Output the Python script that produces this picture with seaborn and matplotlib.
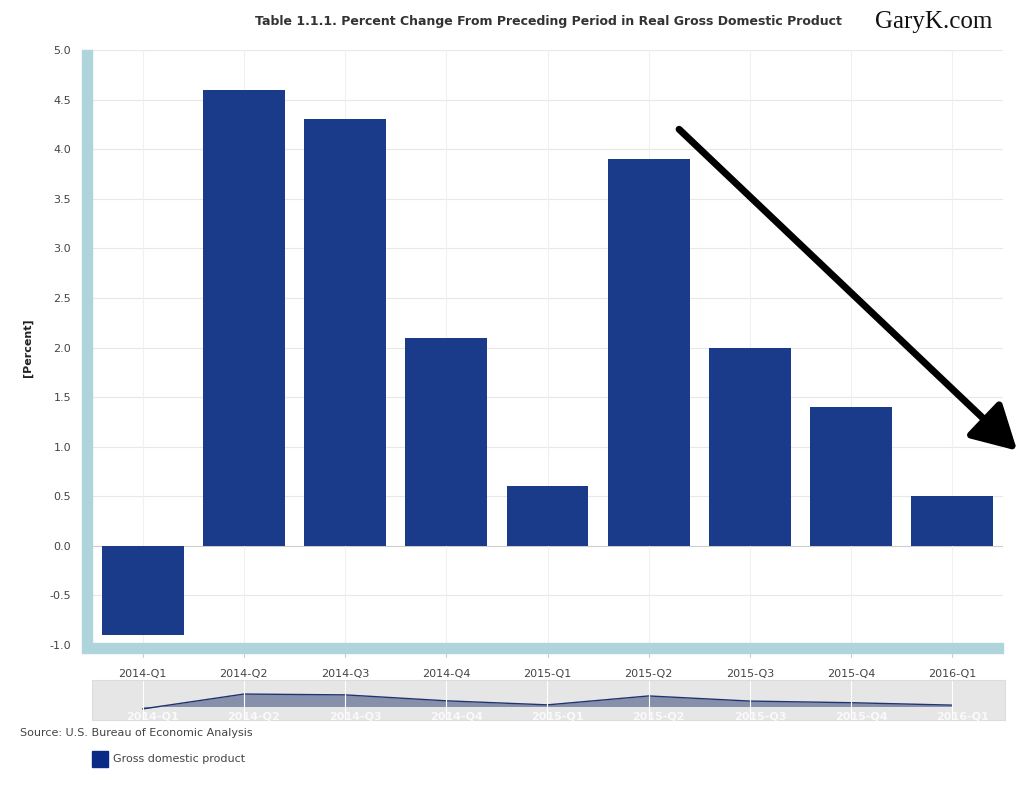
import matplotlib
matplotlib.use("Agg")
import matplotlib.pyplot as plt
from matplotlib.patches import Rectangle
import seaborn as sns

quarters = ["2014-Q1", "2014-Q2", "2014-Q3", "2014-Q4", "2015-Q1",
            "2015-Q2", "2015-Q3", "2015-Q4", "2016-Q1"]
gdp_change = [-0.9, 4.6, 4.3, 2.1, 0.6, 3.9, 2.0, 1.4, 0.5]
y_ticks = [-1.0, -0.5, 0.0, 0.5, 1.0, 1.5, 2.0, 2.5, 3.0, 3.5, 4.0, 4.5, 5.0]

# hand-drawn trend arrow (data coords: category index, percent)
arrow_start = (5.28, 4.22)
arrow_end = (8.66, 0.94)

bar_color = "#1a3a8a"
band_color = "#aed4dc"
text_color = "#444444"

sns.set_style("white")
plt.rcParams["font.family"] = ["DejaVu Sans"]

fig = plt.figure(figsize=(10.25, 7.98), dpi=100)
ax = fig.add_axes([92 / 1025, 1 - 645 / 798, 911 / 1025, 595 / 798])

sns.barplot(x=quarters, y=gdp_change, color=bar_color, width=0.81,
            saturation=1, linewidth=0, ax=ax, zorder=3)

ax.set_xlim(-0.5, 8.5)
ax.set_ylim(-1.0, 5.0)
ax.set_yticks(y_ticks)
ax.set_yticklabels([f"{t:.1f}" for t in y_ticks], fontsize=8, color=text_color)
ax.tick_params(axis="y", length=0, pad=15)
ax.tick_params(axis="x", length=0, pad=17, labelsize=8, labelcolor=text_color)
for t in y_ticks:
    ax.axhline(t, color="#cccccc" if t == 0 else "#e8e8e8", lw=0.8, zorder=1)
for i in range(len(quarters)):
    ax.axvline(i, color="#f0f0f0", lw=0.8, zorder=1)
for s in ax.spines.values():
    s.set_visible(False)
ax.set_xlabel("")
ax.set_ylabel("[Percent]", fontsize=8, fontweight="bold", color="#222222")
ax.yaxis.set_label_coords(-0.065, 0.5)

# light blue bands on left and bottom
fig.patches.append(Rectangle((82 / 1025, 1 - 653 / 798), 10 / 1025, 603 / 798,
                             transform=fig.transFigure, color=band_color, zorder=0))
fig.patches.append(Rectangle((92 / 1025, 1 - 653 / 798), 911 / 1025, 10 / 798,
                             transform=fig.transFigure, color=band_color, zorder=0))

# x tick marks below the band
for i in range(len(quarters)):
    ax.plot([i, i], [-1.09, -1.12], color="#cccccc", lw=0.8, clip_on=False)

ax.annotate("", xy=arrow_end, xytext=arrow_start, annotation_clip=False,
            arrowprops=dict(arrowstyle="-|>,head_length=0.9,head_width=0.5",
                            color="black", lw=5, mutation_scale=30,
                            capstyle="round"), zorder=5)

# navigator strip
nav = fig.add_axes([92 / 1025, 1 - 720 / 798, 913 / 1025, 40 / 798])
nav.set_facecolor("#e6e6e6")
nav.fill_between(range(len(quarters)), gdp_change, 0, color="#8790ab", lw=0)
sns.lineplot(x=list(range(len(quarters))), y=gdp_change, color="#1f3470",
             lw=1, ax=nav)
nav.set_xlim(-0.5, 8.52)
nav.set_ylim(-5.0, 9.8)
for i, q in enumerate(quarters):
    nav.axvline(i, color="white", lw=0.8)
    nav.text(i + 0.1, -3.6, q, color="white", fontsize=8, fontweight="bold",
             ha="center", va="center", alpha=0.8)
nav.set_xticks([])
nav.set_yticks([])
for s in nav.spines.values():
    s.set_color("#dddddd")
    s.set_linewidth(0.8)

fig.text(548 / 1025, 1 - 21 / 798,
         "Table 1.1.1. Percent Change From Preceding Period in Real Gross Domestic Product",
         ha="center", va="center", fontsize=9, fontweight="bold", color="#333333")
fig.text(934 / 1025, 1 - 22 / 798, "GaryK.com", ha="center", va="center",
         fontsize=18, family="Liberation Serif", color="#111111")
fig.text(20 / 1025, 1 - 733 / 798, "Source: U.S. Bureau of Economic Analysis",
         ha="left", va="center", fontsize=8, color=text_color)
fig.patches.append(Rectangle((92 / 1025, 1 - 767 / 798), 16 / 1025, 16 / 798,
                             transform=fig.transFigure, color="#0b2a85"))
fig.text(113 / 1025, 1 - 759 / 798, "Gross domestic product", ha="left",
         va="center", fontsize=8, color=text_color)

fig.savefig("out.png", dpi=100)
